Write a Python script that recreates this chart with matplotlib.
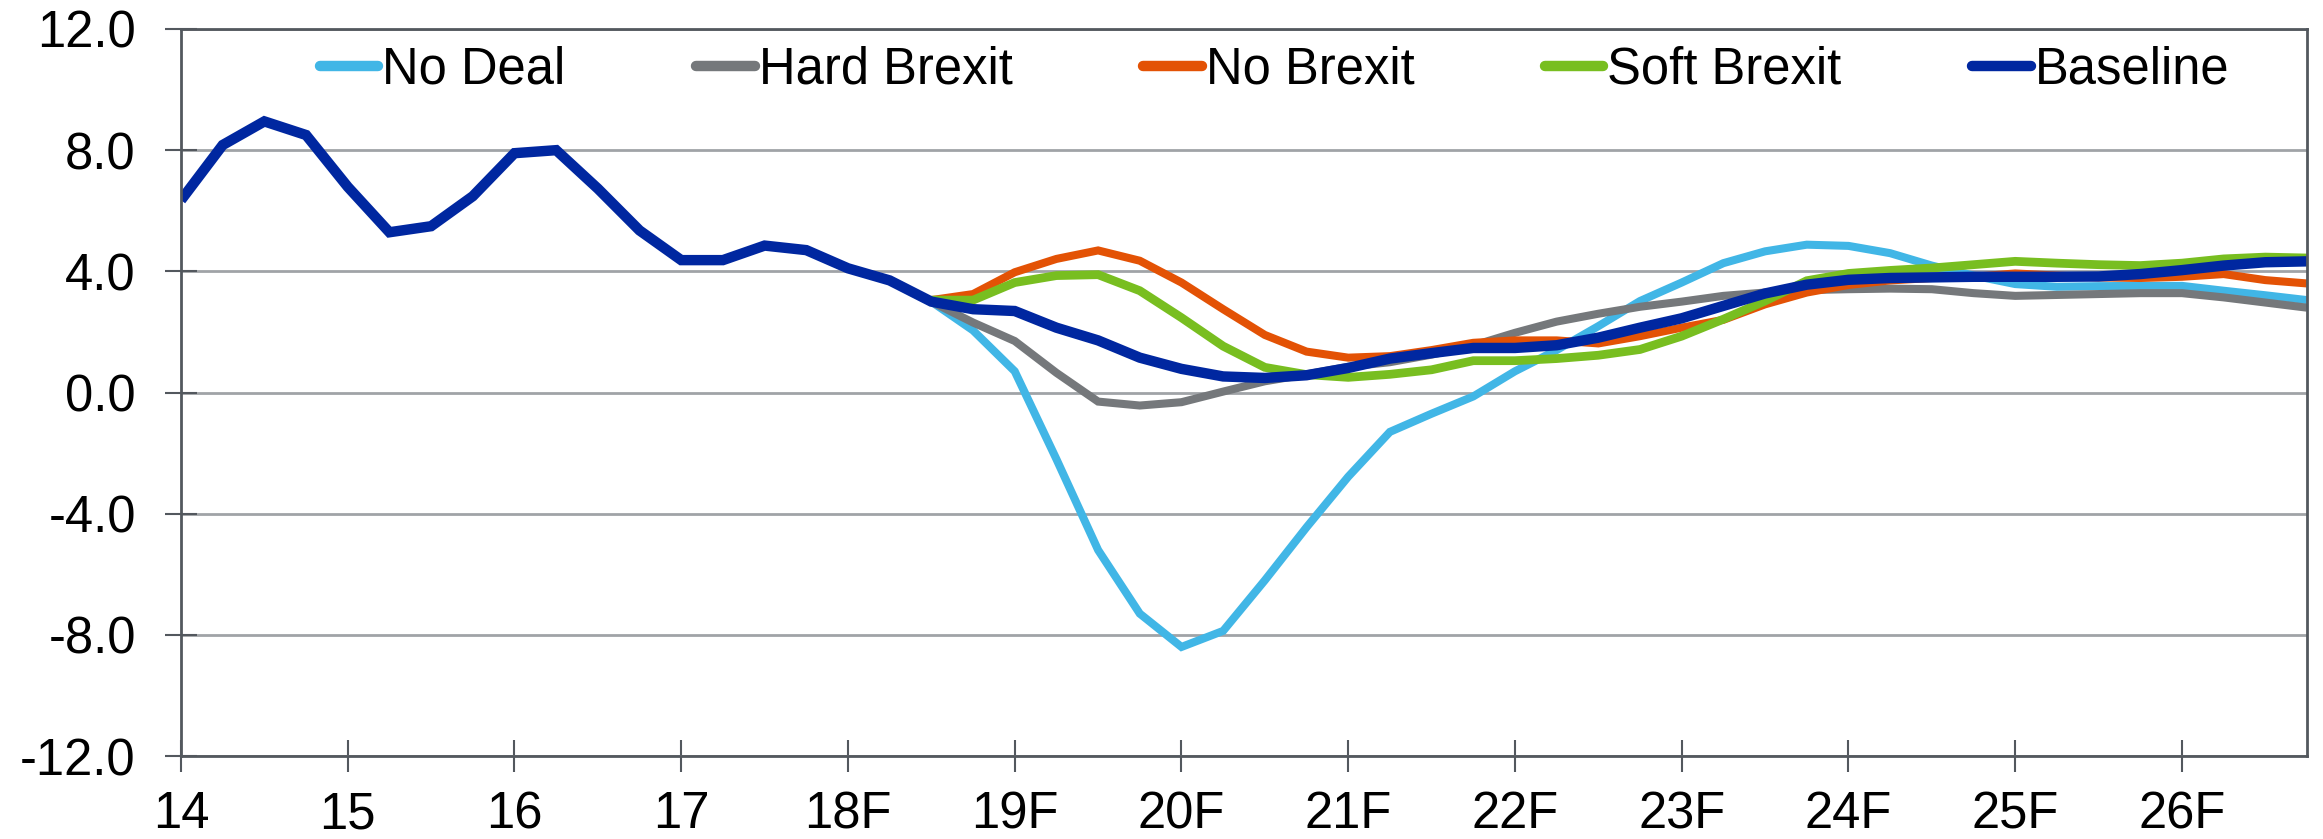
import matplotlib
matplotlib.use("Agg")
import matplotlib.pyplot as plt
from matplotlib.lines import Line2D
import numpy as np

plt.rcParams['font.family'] = ['Liberation Sans', 'DejaVu Sans']

# quarterly data, 2014Q1 .. 2026Q4; scenarios split from baseline at 2018Q3
first_year = 14
split_quarter = 18
year_labels = ['14', '15', '16', '17', '18F', '19F', '20F', '21F', '22F', '23F', '24F', '25F', '26F']

baseline = [6.35, 8.17, 8.95, 8.5, 6.79, 5.29, 5.49, 6.48, 7.9, 8.0,
            6.73, 5.35, 4.37, 4.37, 4.85, 4.7, 4.1, 3.7, 3.0, 2.75,
            2.69, 2.14, 1.72, 1.15, 0.78, 0.53, 0.48, 0.57, 0.81, 1.12,
            1.3, 1.47, 1.47, 1.56, 1.81, 2.14, 2.45, 2.86, 3.27, 3.56,
            3.72, 3.78, 3.8, 3.82, 3.82, 3.82, 3.83, 3.91, 4.04, 4.19,
            4.3, 4.33]

no_deal = [3.0, 2.05, 0.7, -2.2, -5.2, -7.3, -8.4, -7.87, -6.2, -4.45,
           -2.78, -1.3, -0.7, -0.13, 0.7, 1.4, 2.19, 3.02, 3.63, 4.27,
           4.66, 4.88, 4.84, 4.6, 4.19, 3.86, 3.58, 3.49, 3.51, 3.52,
           3.52, 3.36, 3.21, 3.05]

hard_brexit = [3.0, 2.31, 1.7, 0.65, -0.3, -0.43, -0.32, 0.03, 0.37, 0.6,
               0.85, 1.0, 1.25, 1.55, 1.97, 2.34, 2.6, 2.83, 3.0, 3.19,
               3.3, 3.38, 3.41, 3.43, 3.41, 3.28, 3.19, 3.22, 3.25, 3.28,
               3.28, 3.14, 2.97, 2.8]

no_brexit = [3.05, 3.25, 3.97, 4.41, 4.69, 4.35, 3.63, 2.75, 1.9, 1.35,
             1.15, 1.2, 1.4, 1.64, 1.72, 1.72, 1.62, 1.86, 2.14, 2.4,
             2.91, 3.3, 3.55, 3.7, 3.78, 3.82, 3.93, 3.86, 3.8, 3.78,
             3.82, 3.91, 3.71, 3.6]

soft_brexit = [3.05, 3.05, 3.63, 3.86, 3.89, 3.36, 2.47, 1.53, 0.83, 0.59,
               0.5, 0.6, 0.75, 1.05, 1.05, 1.12, 1.23, 1.42, 1.86, 2.42,
               3.02, 3.69, 3.93, 4.03, 4.11, 4.22, 4.33, 4.27, 4.22, 4.19,
               4.27, 4.41, 4.47, 4.44]

series = [
    ('No Deal', no_deal, '#41B6E6', 5.8),
    ('Hard Brexit', hard_brexit, '#75787B', 5.8),
    ('No Brexit', no_brexit, '#E35205', 5.8),
    ('Soft Brexit', soft_brexit, '#78BE20', 6.3),
]

W, H = 2323, 839
fig = plt.figure(figsize=(W / 100, H / 100), dpi=100)
ax = fig.add_axes([181 / W, (H - 756) / H, (2307 - 181) / W, (756 - 29) / H])

x_all = first_year + np.arange(len(baseline)) / 4
x_scen = x_all[split_quarter:]

for name, vals, col, lw in series:
    ax.plot(x_scen, vals, color=col, lw=lw, solid_capstyle='butt', solid_joinstyle='miter')
ax.plot(x_all, baseline, color='#0027A0', lw=7.5, solid_capstyle='butt', solid_joinstyle='miter')

ax.set_xlim(x_all[0], x_all[-1])
ax.set_ylim(-12, 12)
yt = np.arange(-12, 13, 4)
ax.set_yticks(yt)
ax.set_yticklabels([f"{v:.1f}" for v in yt])
ax.set_xticks(first_year + np.arange(len(year_labels)))
ax.set_xticklabels(year_labels)

ax.grid(axis='y', color='#A0A3A7', lw=2)
ax.grid(axis='x', visible=False)
ax.set_axisbelow(True)
for sp in ax.spines.values():
    sp.set_color('#53585E')
    sp.set_linewidth(2)

ax.tick_params(axis='both', direction='inout', length=23, width=1.5, color='#53585E',
               labelsize=36.5, labelcolor='black')
ax.tick_params(axis='y', pad=21)
ax.tick_params(axis='x', pad=13)

handles = [Line2D([], [], color=c, lw=7.5, solid_capstyle='round') for _, _, c, _ in series]
handles.append(Line2D([], [], color='#0027A0', lw=7.5, solid_capstyle='round'))
labels = [s[0] for s in series] + ['Baseline']
ax.legend(handles, labels, loc='center left', bbox_to_anchor=((320 - 181) / 2126, (756 - 70) / 727),
          ncol=5, frameon=False, fontsize=36.5, handlelength=1.15, handletextpad=0.08,
          columnspacing=2.58, borderpad=0, borderaxespad=0)

fig.savefig('out.png', dpi=100)
